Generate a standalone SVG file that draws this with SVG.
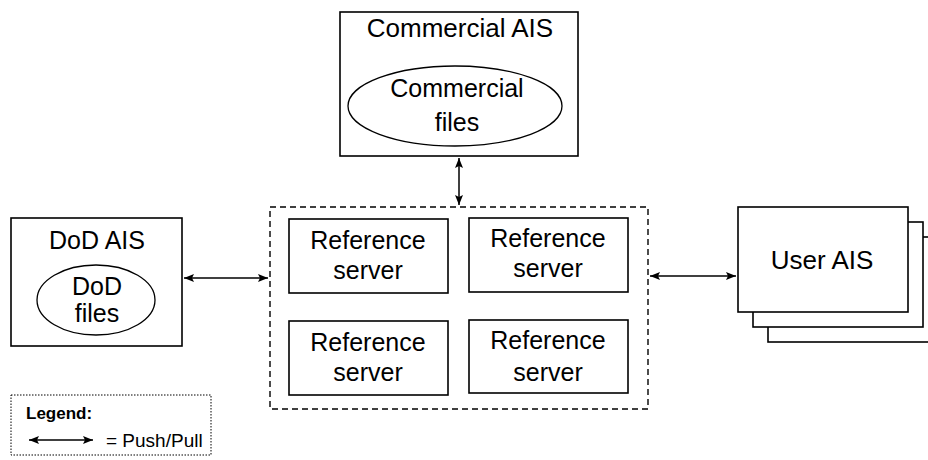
<svg xmlns="http://www.w3.org/2000/svg" width="928" height="460" viewBox="0 0 928 460">
<defs>
<marker id="ah" viewBox="0 0 10 8" refX="10" refY="4" markerWidth="10" markerHeight="8" markerUnits="userSpaceOnUse" orient="auto-start-reverse">
<path d="M0,0 L10,4 L0,8 L2,4 Z" fill="#000"/>
</marker>
<style>
.box{fill:#fff;stroke:#000;stroke-width:1.6}
.ell{fill:#fff;stroke:#000;stroke-width:1.3}
.t{font-family:"Liberation Sans",Arial,sans-serif;font-size:25px;fill:#000;text-anchor:middle}
.conn{stroke:#000;stroke-width:1.5;fill:none;marker-start:url(#ah);marker-end:url(#ah)}
.lg{font-family:"Liberation Sans",Arial,sans-serif;fill:#000}
</style>
</defs>
<rect width="928" height="460" fill="#fff"/>
<g id="commercial-ais">
<rect class="box" x="340" y="12" width="238" height="144"/>
<text class="t" x="460" y="37" style="font-size:26px">Commercial AIS</text>
<ellipse class="ell" cx="455" cy="106" rx="107" ry="40"/>
<text class="t" x="457" y="97">Commercial</text>
<text class="t" x="457" y="131">files</text>
</g>
<g id="dod-ais">
<rect class="box" x="11" y="218" width="171" height="128"/>
<text class="t" x="97" y="249">DoD AIS</text>
<ellipse class="ell" cx="96" cy="300" rx="59" ry="35"/>
<text class="t" x="97" y="295">DoD</text>
<text class="t" x="97" y="322">files</text>
</g>
<g id="reference-cluster">
<rect x="270" y="207" width="378" height="202" fill="none" stroke="#000" stroke-width="1.4" stroke-dasharray="6,4"/>
</g>
<g id="ref-server-1">
<rect class="box" x="289" y="219" width="159" height="74"/>
<text class="t" x="368" y="249">Reference</text>
<text class="t" x="368" y="279">server</text>
</g>
<g id="ref-server-2">
<rect class="box" x="469" y="218" width="159" height="74"/>
<text class="t" x="548" y="247">Reference</text>
<text class="t" x="548" y="277">server</text>
</g>
<g id="ref-server-3">
<rect class="box" x="289" y="321" width="159" height="74"/>
<text class="t" x="368" y="351">Reference</text>
<text class="t" x="368" y="381">server</text>
</g>
<g id="ref-server-4">
<rect class="box" x="469" y="320" width="159" height="73"/>
<text class="t" x="548" y="349">Reference</text>
<text class="t" x="548" y="381">server</text>
</g>
<g id="user-ais">
<rect class="box" x="768" y="237" width="170" height="105"/>
<rect class="box" x="753" y="222" width="170" height="105"/>
<rect class="box" x="738" y="207" width="170" height="105"/>
<text class="t" x="822" y="269" style="font-size:26px">User AIS</text>
</g>
<g id="connectors">
<line class="conn" x1="459" y1="158" x2="459" y2="205"/>
<line class="conn" x1="184" y1="278" x2="268" y2="278"/>
<line class="conn" x1="650" y1="276" x2="736" y2="276"/>
</g>
<g id="legend">
<rect x="11" y="395" width="200" height="60" fill="none" stroke="#000" stroke-width="1" stroke-dasharray="1.5,1.5"/>
<text class="lg" x="26" y="419" font-size="17" font-weight="bold">Legend:</text>
<line class="conn" x1="29" y1="440" x2="93" y2="440"/>
<text class="lg" x="106" y="447" font-size="19">= Push/Pull</text>
</g>
</svg>
